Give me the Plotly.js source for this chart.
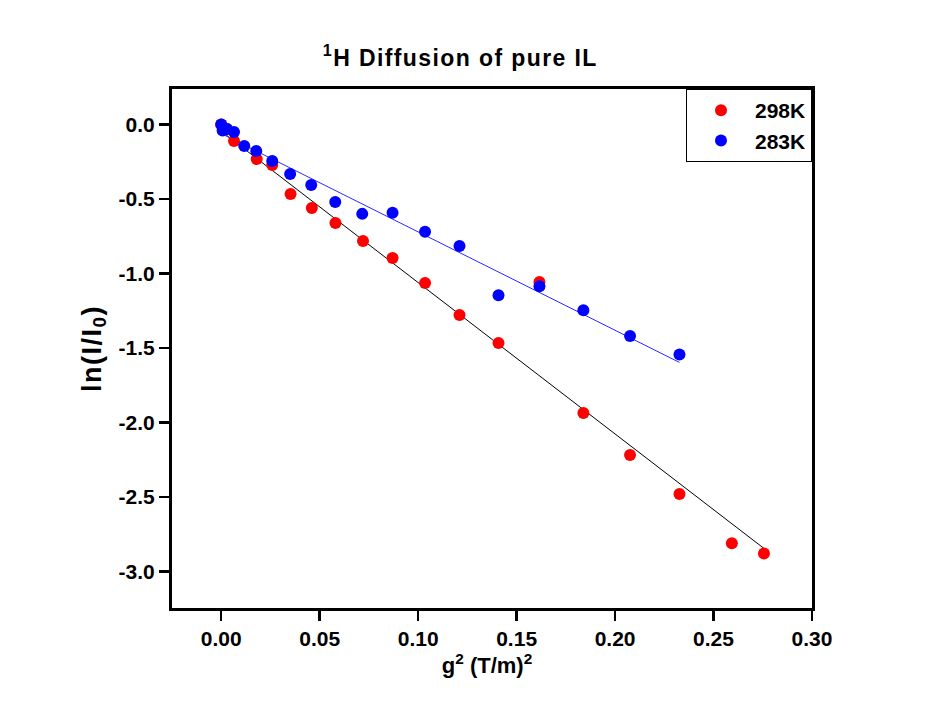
<!DOCTYPE html>
<html>
<head>
<meta charset="utf-8">
<script src="https://cdn.plot.ly/plotly-3.0.1.min.js"></script>
<style>html,body{margin:0;padding:0;background:#fff;}#chart{width:928px;height:719px;}</style>
</head>
<body>
<div id="chart"></div>
<script>
// 298K data
const x298 = [0, 0.0029, 0.0065, 0.018, 0.0259, 0.0352, 0.046, 0.058, 0.072, 0.087, 0.1035, 0.121, 0.1408, 0.1616, 0.1839, 0.2076, 0.2327, 0.2593, 0.2756];
const y298 = [0, -0.03, -0.111, -0.232, -0.272, -0.466, -0.56, -0.661, -0.782, -0.896, -1.064, -1.278, -1.466, -1.057, -1.936, -2.218, -2.48, -2.81, -2.88];
// 283K data
const x283 = [0, 0.0007, 0.0029, 0.0065, 0.0117, 0.0178, 0.0259, 0.035, 0.0457, 0.0579, 0.0716, 0.087, 0.1035, 0.121, 0.1408, 0.1616, 0.1839, 0.2076, 0.2327];
const y283 = [0, -0.04, -0.03, -0.05, -0.144, -0.178, -0.245, -0.332, -0.406, -0.52, -0.60, -0.593, -0.72, -0.815, -1.146, -1.085, -1.247, -1.42, -1.543];
// linear fits
const fitX298 = [0, 0.2756];
const fitY298 = [-0.045, -2.845];
const fitX283 = [0, 0.2327];
const fitY283 = [-0.061, -1.597];
// ticks
const xTickVals = [0, 0.05, 0.10, 0.15, 0.20, 0.25, 0.30];
const xTickText = ["0.00", "0.05", "0.10", "0.15", "0.20", "0.25", "0.30"];
const yTickVals = [0, -0.5, -1.0, -1.5, -2.0, -2.5, -3.0];
const yTickText = ["0.0", "-0.5", "-1.0", "-1.5", "-2.0", "-2.5", "-3.0"];

const FONT = "Liberation Sans, Arial, sans-serif";

const traces = [
  {x: fitX298, y: fitY298, mode: 'lines', line: {color: '#000000', width: 1}, showlegend: false, hoverinfo: 'skip'},
  {x: fitX283, y: fitY283, mode: 'lines', line: {color: '#2a2aff', width: 1}, showlegend: false, hoverinfo: 'skip'},
  {x: x298, y: y298, mode: 'markers', name: '298K', marker: {color: '#ff0000', size: 12}},
  {x: x283, y: y283, mode: 'markers', name: '283K', marker: {color: '#0000ff', size: 12}}
];

const axisCommon = {
  showgrid: false, zeroline: false, showline: true, linecolor: '#000', linewidth: 3, mirror: true,
  ticks: 'outside', ticklen: 10, tickwidth: 2.5, tickcolor: '#000',
  tickfont: {family: FONT, size: 21, color: '#000', weight: 'bold'}
};

const layout = {
  width: 928, height: 719,
  paper_bgcolor: '#fff', plot_bgcolor: '#fff',
  margin: {l: 172, r: 116, t: 89, b: 111},
  title: {text: '<sup>1</sup>H Diffusion of pure IL', x: 0.496, xref: 'container', xanchor: 'center', y: 0.92, yanchor: 'middle',
          font: {family: FONT, size: 23, color: '#000', weight: 'bold'}},
  xaxis: Object.assign({}, axisCommon, {
    range: [-0.025, 0.30], tickvals: xTickVals, ticktext: xTickText,
    title: {text: 'g<sup>2</sup> (T/m)<sup>2</sup>', standoff: 1, font: {family: FONT, size: 22, color: '#000', weight: 'bold'}}
  }),
  yaxis: Object.assign({}, axisCommon, {
    range: [-3.245, 0.238], tickvals: yTickVals, ticktext: yTickText,
    title: {text: 'ln(I/I<sub>0</sub>)', standoff: 10, font: {family: FONT, size: 27, color: '#000', weight: 'bold'}}
  }),
  legend: {x: 1, y: 1, xanchor: 'right', yanchor: 'top', bordercolor: '#000', borderwidth: 1, bgcolor: '#fff',
           itemwidth: 58, font: {family: FONT, size: 21, color: '#000', weight: 'bold'}, tracegroupgap: 0},
  showlegend: true
};

Plotly.newPlot('chart', traces, layout, {displayModeBar: false, staticPlot: true}).then(function (gd) {
  const yt = gd.querySelector('.ytitle');
  if (yt) yt.style.letterSpacing = '1.5px';
  const gt = gd.querySelector('.gtitle');
  if (gt) gt.style.letterSpacing = '1.4px';
  const xt = gd.querySelector('.xtitle');
  if (xt) xt.setAttribute('transform', 'translate(-5,0)');
});
</script>
</body>
</html>
